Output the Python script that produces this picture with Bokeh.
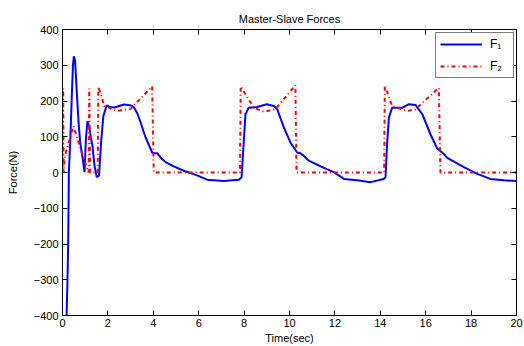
from bokeh.plotting import figure
from bokeh.models import Range1d, LinearAxis, FixedTicker, Legend, LegendItem
from bokeh.embed import file_html
from bokeh.resources import INLINE

# ---- data ----
t1 = [0.18, 0.22, 0.25, 0.28, 0.34, 0.41, 0.46, 0.5, 0.55, 0.6, 0.66, 0.72, 0.78, 0.88,
      0.97, 1.03, 1.1, 1.17, 1.25, 1.32, 1.41, 1.51, 1.61, 1.7, 1.8, 1.95, 2.1, 2.3, 2.5,
      2.7, 2.9, 3.05, 3.15, 3.3, 3.44, 3.66, 3.95, 4.05, 4.17, 4.35, 4.54, 4.9, 5.34, 5.93,
      6.37, 7.1, 7.77, 7.89, 7.96, 8.06, 8.2, 8.57, 9.0, 9.31, 9.46, 9.75, 10.04, 10.34,
      10.48, 10.6, 10.85, 11.37, 11.95, 12.4, 12.98, 13.57, 14.15, 14.23, 14.3, 14.38,
      14.52, 14.96, 15.26, 15.55, 15.85, 16.21, 16.5, 16.8, 16.95, 17.68, 18.27, 18.85,
      19.44, 20.0]
f1 = [-400, -300, -200, 0, 84, 214, 300, 325, 315, 260, 190, 130, 84, 42,
      1, 93, 144, 130, 98, 75, 19, -13, -8, 84, 158, 188, 183, 182, 186,
      190, 189, 187, 182, 165, 140, 98, 56, 54, 54, 40, 29, 17, 5, -8,
      -20, -24, -20, -13, 60, 163, 181, 183, 191, 186, 177, 126, 84, 56,
      54, 48, 33, 17, 1, -18, -22, -27, -18, -13, 80, 154,
      181, 181, 191, 189, 163, 107, 68, 52, 41, 15, -4, -18,
      -22, -24]

t2 = [0, 0.03, 0.05, 0.1, 0.48, 0.92, 1.15, 1.18, 1.22, 1.55, 1.58, 1.85, 2.1, 2.4, 3.0,
      3.95, 4.02, 7.82, 7.85, 8.43, 8.87, 9.38, 10.26, 10.31, 14.17, 14.2, 14.52, 15.18,
      15.55, 16.58, 16.65, 20.0]
f2 = [0, 235, 0, 45, 130, 42, 0, 235, 0, 0, 240, 185, 180, 172, 178,
      241, 0, 0, 241, 181, 170, 177, 244, 0, 0, 244, 186, 172,
      177, 237, 0, 0]

x_ticks = [0, 2, 4, 6, 8, 10, 12, 14, 16, 18, 20]
y_ticks = [-400, -300, -200, -100, 0, 100, 200, 300, 400]

FONT = "Liberation Sans"

p = figure(width=524, height=346, output_backend="svg", toolbar_location=None,
           x_range=Range1d(0, 20), y_range=Range1d(-400, 400),
           title="Master-Slave Forces",
           min_border_left=62, min_border_right=8, min_border_top=29, min_border_bottom=29)

p.background_fill_color = "white"
p.border_fill_color = "white"
p.outline_line_color = "black"
p.outline_line_width = 1
p.grid.visible = False

p.title.align = "center"
p.title.text_font = FONT
p.title.text_font_size = "11px"
p.title.text_font_style = "normal"
p.title.text_color = "black"

def style_axis(ax, labels=True):
    ax.axis_line_color = "black"
    ax.major_tick_in = 5
    ax.major_tick_out = 0
    ax.minor_tick_line_color = None
    ax.major_tick_line_color = "black"
    ax.major_label_text_font = FONT
    ax.axis_label_text_font = FONT
    ax.axis_label_text_font_size = "11px"
    ax.axis_label_text_font_style = "normal"
    ax.axis_label_text_color = "black"
    if labels:
        ax.major_label_text_font_size = "11px"
        ax.major_label_text_color = "black"
    else:
        ax.major_label_text_font_size = "1px"
        ax.major_label_text_color = None
        ax.major_label_standoff = 0

p.xaxis.ticker = FixedTicker(ticks=x_ticks)
p.yaxis.ticker = FixedTicker(ticks=y_ticks)
style_axis(p.xaxis[0])
style_axis(p.yaxis[0])
p.xaxis.axis_label = "Time(sec)"
p.yaxis.axis_label = "Force(N)"
p.xaxis.major_label_standoff = 3
p.xaxis.axis_label_standoff = 2
p.yaxis.major_label_standoff = 4
p.yaxis.axis_label_standoff = 12

top = LinearAxis(ticker=FixedTicker(ticks=x_ticks))
style_axis(top, labels=False)
p.add_layout(top, "above")
right = LinearAxis(ticker=FixedTicker(ticks=y_ticks))
style_axis(right, labels=False)
p.add_layout(right, "right")

r1 = p.line(t1, f1, line_color="#0000ff", line_width=2)
r2 = p.line(t2, f2, line_color="#ff0000", line_width=2, line_dash="4 3 1 3")

legend = Legend(items=[LegendItem(label="F\u2081", renderers=[r1]),
                       LegendItem(label="F\u2082", renderers=[r2])],
                location=(373, 237))
legend.border_line_color = "black"
legend.border_line_width = 1
legend.background_fill_color = "white"
legend.background_fill_alpha = 1
legend.padding = 4
legend.spacing = 8
legend.glyph_width = 42
legend.glyph_height = 14
legend.label_height = 14
legend.label_width = 19
legend.label_standoff = 8
legend.margin = 0
legend.label_text_font = FONT
legend.label_text_font_size = "12px"
legend.label_text_color = "black"
p.add_layout(legend, "center")

open("out.html", "w").write(file_html(p, INLINE))
